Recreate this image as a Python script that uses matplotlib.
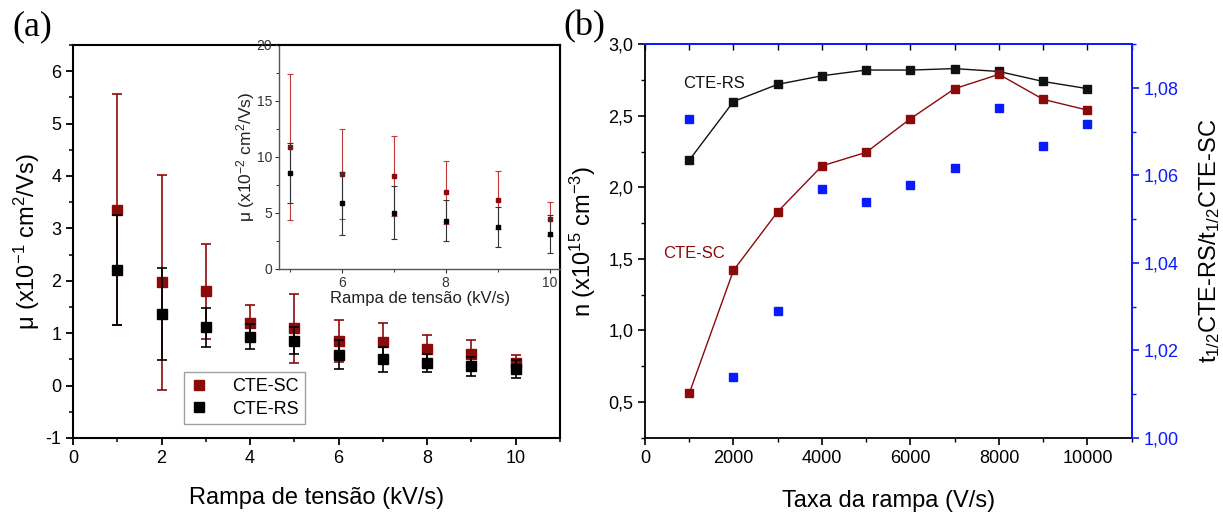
import matplotlib
matplotlib.use("Agg")
import matplotlib.pyplot as plt
from matplotlib.lines import Line2D
from matplotlib.ticker import MultipleLocator, FixedLocator, FixedFormatter

plt.rcParams['font.family'] = ['Liberation Sans', 'DejaVu Sans']
plt.rcParams['mathtext.fontset'] = 'custom'
plt.rcParams['mathtext.rm'] = 'Liberation Sans'
plt.rcParams['mathtext.it'] = 'Liberation Sans:italic'
plt.rcParams['axes.unicode_minus'] = False

# ---------------- data: panel (a) ----------------
ramp_kv = [1, 2, 3, 4, 5, 6, 7, 8, 9, 10]
mu_sc = [3.36, 1.97, 1.80, 1.20, 1.09, 0.85, 0.83, 0.69, 0.61, 0.44]
mu_sc_err = [2.21, 2.05, 0.91, 0.33, 0.65, 0.40, 0.36, 0.28, 0.26, 0.15]
mu_rs = [2.20, 1.37, 1.11, 0.93, 0.86, 0.59, 0.50, 0.43, 0.37, 0.32]
mu_rs_err = [1.05, 0.88, 0.38, 0.24, 0.26, 0.28, 0.24, 0.18, 0.18, 0.17]
series_labels = ['CTE-SC', 'CTE-RS']

# inset (units of 1e-2), ramps 5..10
inset_ramp = [5, 6, 7, 8, 9, 10]
inset_sc = [10.9, 8.46, 8.3, 6.86, 6.14, 4.44]
inset_sc_err = [6.5, 4.0, 3.6, 2.8, 2.6, 1.5]
inset_rs = [8.58, 5.87, 5.04, 4.32, 3.73, 3.16]
inset_rs_err = [2.65, 2.8, 2.4, 1.8, 1.8, 1.7]

# ---------------- data: panel (b) ----------------
rate = [1000, 2000, 3000, 4000, 5000, 6000, 7000, 8000, 9000, 10000]
n_rs = [2.19, 2.60, 2.72, 2.78, 2.82, 2.82, 2.83, 2.81, 2.74, 2.69]
n_sc = [0.56, 1.42, 1.83, 2.15, 2.245, 2.48, 2.69, 2.79, 2.615, 2.54]
t_ratio = [1.0730, 1.0138, 1.0291, 1.0569, 1.0540, 1.0577, 1.0616, 1.0755, 1.0667, 1.0718]

left_ticks = [0.5, 1.0, 1.5, 2.0, 2.5, 3.0]
left_ticklabels = ['0,5', '1,0', '1,5', '2,0', '2,5', '3,0']
right_ticks = [1.00, 1.02, 1.04, 1.06, 1.08]
right_ticklabels = ['1,00', '1,02', '1,04', '1,06', '1,08']

RED = '#8b0a0a'
BLUE = '#0a1aff'

W, H = 1223, 513
fig = plt.figure(figsize=(W / 100, H / 100), dpi=100)

def frac(l, t, r, b):
    return [l / W, 1 - b / H, (r - l) / W, (b - t) / H]

# ---------------- panel (a) ----------------
ax = fig.add_axes(frac(73, 45, 560, 438))
ax.errorbar(ramp_kv, mu_sc, yerr=mu_sc_err, fmt='s', color=RED, ecolor=RED,
            ms=7, elinewidth=1.2, capsize=3.5, capthick=1.2, zorder=2)
ax.errorbar(ramp_kv, mu_rs, yerr=mu_rs_err, fmt='s', color='black', ecolor='black',
            ms=7, elinewidth=1.2, capsize=3.5, capthick=1.2, zorder=3)
ax.set_xlim(0, 11)
ax.set_ylim(-1, 6.5)
ax.xaxis.set_major_locator(MultipleLocator(2))
ax.xaxis.set_minor_locator(MultipleLocator(1))
ax.yaxis.set_major_locator(MultipleLocator(1))
ax.yaxis.set_minor_locator(MultipleLocator(0.5))
ax.tick_params(which='major', direction='out', length=5, width=1.3, labelsize=13)
ax.tick_params(which='minor', direction='out', length=3, width=1.1)
for s in ax.spines.values():
    s.set_linewidth(1.5)
ax.set_xlabel('Rampa de tensão (kV/s)', fontsize=17, va='center')
ax.xaxis.set_label_coords(0.5, -0.153)
ax.set_ylabel(r'μ (x10$^{-1}$ cm$^{2}$/Vs)', fontsize=17, va='center')
ax.yaxis.set_label_coords(-0.094, 0.5)
handles = [Line2D([], [], marker='s', ls='none', color=RED, ms=7),
           Line2D([], [], marker='s', ls='none', color='black', ms=7)]
leg = ax.legend(handles, series_labels, loc='lower left',
                bbox_to_anchor=((184 - 73) / 487, (438 - 424) / 393),
                borderaxespad=0, fontsize=13, frameon=True, fancybox=False,
                edgecolor='#888888', handlelength=1.0, handletextpad=1.3,
                borderpad=0.35, labelspacing=0.3)
leg.get_frame().set_linewidth(1.0)

# ---------------- inset ----------------
axi = fig.add_axes(frac(279.3, 45, 560, 269))
axi.set_facecolor('white')
axi.errorbar(inset_ramp, inset_sc, yerr=inset_sc_err, fmt='s', color=RED, ecolor='#c03a3a',
             ms=3.5, elinewidth=0.8, capsize=2, capthick=0.8, zorder=2)
axi.errorbar(inset_ramp, inset_rs, yerr=inset_rs_err, fmt='s', color='black', ecolor='#333333',
             ms=3.5, elinewidth=0.8, capsize=2, capthick=0.8, zorder=3)
axi.set_xlim(4.8, 10.2)
axi.set_ylim(0, 20)
axi.xaxis.set_major_locator(MultipleLocator(2))
axi.xaxis.set_minor_locator(MultipleLocator(1))
axi.yaxis.set_major_locator(MultipleLocator(5))
axi.yaxis.set_minor_locator(MultipleLocator(2.5))
axi.tick_params(which='major', direction='out', length=3, width=0.8, labelsize=10,
                colors='#333333', pad=2)
axi.tick_params(which='minor', direction='out', length=2, width=0.7, colors='#333333')
for s in axi.spines.values():
    s.set_linewidth(1.0)
    s.set_color('#555555')
axi.spines['top'].set_color('black')
axi.spines['top'].set_linewidth(1.5)
axi.spines['right'].set_color('black')
axi.spines['right'].set_linewidth(1.5)
axi.set_xlabel('Rampa de tensão (kV/s)', fontsize=12, va='center', color='#222222')
axi.xaxis.set_label_coords(0.5, -0.13)
axi.set_ylabel(r'μ (x10$^{-2}$ cm$^{2}$/Vs)', fontsize=12.5, va='center', color='#222222')
axi.yaxis.set_label_coords(-0.12, 0.5)

# ---------------- panel (b) ----------------
bx = fig.add_axes(frac(645, 44.3, 1131.7, 437.7))
bx.plot(rate, n_rs, '-s', color='#111111', lw=1.0, ms=6, zorder=3)
bx.plot(rate, n_sc, '-s', color=RED, lw=1.0, ms=6, zorder=3)
bx.set_xlim(0, 11000)
bx.set_ylim(0.25, 3.0)
bx.xaxis.set_major_locator(MultipleLocator(2000))
bx.xaxis.set_minor_locator(MultipleLocator(1000))
bx.yaxis.set_major_locator(FixedLocator(left_ticks))
bx.yaxis.set_major_formatter(FixedFormatter(left_ticklabels))
bx.yaxis.set_minor_locator(MultipleLocator(0.25))
bx.tick_params(which='major', direction='out', length=5, width=1.2, labelsize=13)
bx.tick_params(which='minor', direction='out', length=3, width=1.0)
for s in bx.spines.values():
    s.set_linewidth(1.3)
bx.spines['top'].set_color(BLUE)
bx.spines['right'].set_color(BLUE)
bx.set_xlabel('Taxa da rampa (V/s)', fontsize=17, va='center')
bx.xaxis.set_label_coords(0.5, -0.16)
bx.set_ylabel(r'n (x10$^{15}$ cm$^{-3}$)', fontsize=17, va='center')
bx.yaxis.set_label_coords(-0.127, 0.5)
bx.text(870, 2.727, series_labels[1], fontsize=12, color='#111111', va='center', ha='left')
bx.text(414, 1.535, series_labels[0], fontsize=12, color=RED, va='center', ha='left')

top = bx.secondary_xaxis('top')
top.xaxis.set_major_locator(MultipleLocator(1000))
top.tick_params(direction='in', length=4, width=1.0, labeltop=False, colors='black')
top.spines['top'].set_visible(False)

bx2 = bx.twinx()
bx2.plot(rate, t_ratio, 's', color=BLUE, ms=6, ls='none', zorder=2)
bx2.set_ylim(1.0, 1.09)
bx2.yaxis.set_major_locator(FixedLocator(right_ticks))
bx2.yaxis.set_major_formatter(FixedFormatter(right_ticklabels))
bx2.yaxis.set_minor_locator(MultipleLocator(0.01))
bx2.tick_params(which='major', direction='out', length=5, width=1.2, labelsize=13,
                colors=BLUE)
bx2.tick_params(which='minor', direction='out', length=3, width=1.0, colors=BLUE)
for s in bx2.spines.values():
    s.set_linewidth(1.3)
bx2.spines['right'].set_color(BLUE)
bx2.spines['top'].set_color(BLUE)
bx2.spines['left'].set_visible(False)
bx2.spines['bottom'].set_visible(False)
bx2.set_ylabel(r't$_{1/2}$CTE-RS/t$_{1/2}$CTE-SC', fontsize=17, va='center',
               rotation=90, color='black')
bx2.yaxis.set_label_coords(1.16, 0.5)

fig.text(12 / W, 1 - 27 / H, '(a)', fontsize=26, family='Liberation Serif',
         va='center', ha='left')
fig.text(563 / W, 1 - 27 / H, '(b)', fontsize=26, family='Liberation Serif',
         va='center', ha='left')

fig.savefig('out.png', dpi=100)
